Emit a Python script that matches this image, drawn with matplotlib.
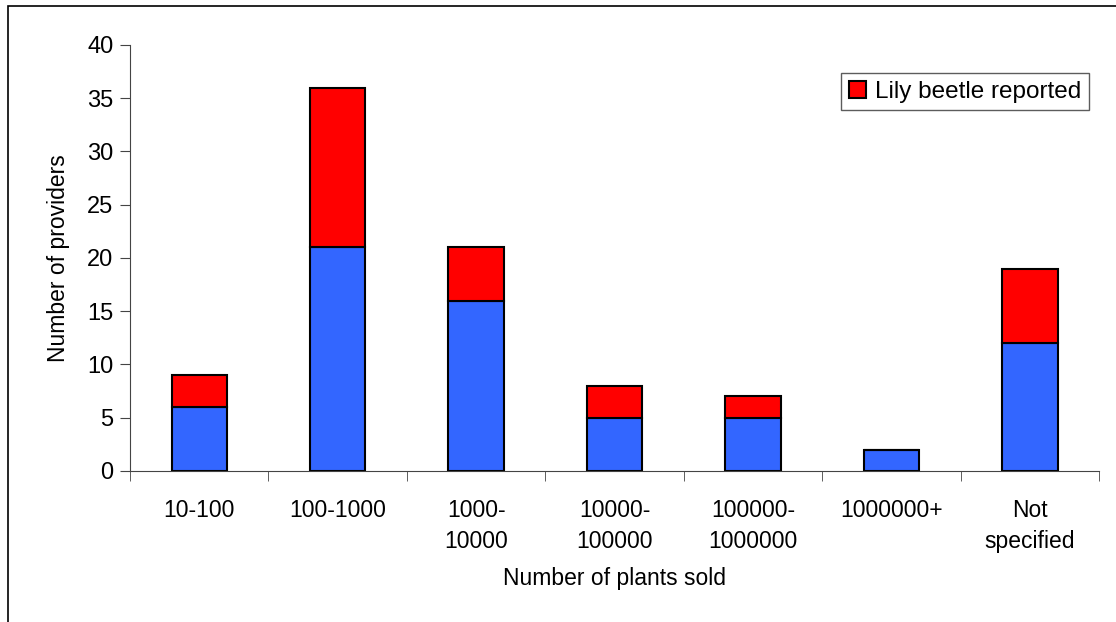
import numpy as np
import matplotlib.pyplot as plt
from matplotlib.patches import Rectangle

plt.rcParams['font.family'] = ['Liberation Sans', 'DejaVu Sans']

categories = ['10-100', '100-1000', '1000-\n10000', '10000-\n100000',
              '100000-\n1000000', '1000000+', 'Not\nspecified']
no_beetle = [6, 21, 16, 5, 5, 2, 12]
beetle = [3, 15, 5, 3, 2, 0, 7]

fig = plt.figure(figsize=(11.16, 6.22), dpi=100)
ax = fig.add_axes([0.1165, 0.2428, 0.8683, 0.6849])

x = np.arange(len(categories))
ax.bar(x, no_beetle, width=0.4, color='#3366FF', edgecolor='black', linewidth=1.5)
ax.bar(x, beetle, width=0.4, bottom=no_beetle, color='#FF0000',
       edgecolor='black', linewidth=1.5, label='Lily beetle reported')

ax.set_xlim(-0.5, len(categories) - 0.5)
ax.set_ylim(0, 40)
ax.set_yticks(range(0, 41, 5))
ax.set_xticks(x)
ax.set_xticklabels(categories, fontsize=16.5, linespacing=1.45)
ax.tick_params(axis='x', length=0, pad=20)
# category boundary ticks
ax.set_xticks(np.arange(-0.5, len(categories)), minor=True)
ax.tick_params(axis='x', which='minor', length=7, color='#444444')
ax.tick_params(axis='y', labelsize=17, length=7, color='#444444', pad=5)

for s in ['top', 'right']:
    ax.spines[s].set_visible(False)
for s in ['left', 'bottom']:
    ax.spines[s].set_color('#444444')

ax.set_ylabel('Number of providers', fontsize=16.5, labelpad=12)
ax.set_xlabel('Number of plants sold', fontsize=16.5, labelpad=10)

leg = ax.legend(loc='upper right', bbox_to_anchor=(1.002, 0.962), fontsize=17.5,
                frameon=True, fancybox=False, edgecolor='#333333',
                handlelength=0.7, handleheight=0.7, handletextpad=0.4,
                borderpad=0.3)
leg.get_frame().set_linewidth(1.0)

# outer chart frame
fig.patches.append(Rectangle((8 / 1116, -0.1), 1.2, 1.1 - 6 / 622,
                             transform=fig.transFigure, fill=False,
                             edgecolor='black', linewidth=1.2))

fig.savefig('out.png', dpi=100)
